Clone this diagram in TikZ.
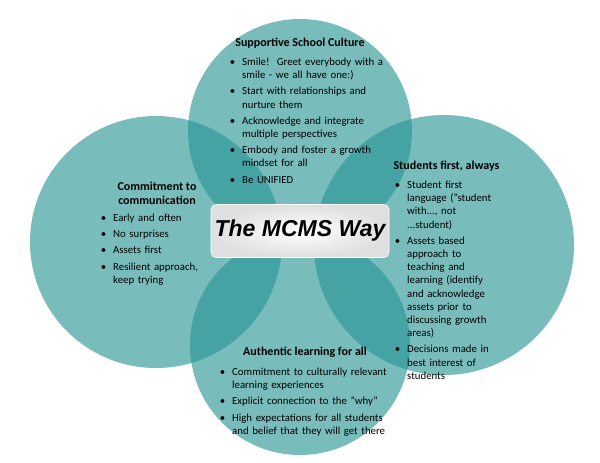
\documentclass[tikz,border=0pt]{standalone}
\usepackage{fontspec}
\setmainfont{Carlito}
\newfontfamily\titlefont{Liberation Sans}
\usetikzlibrary{shadings}
\definecolor{tealc}{RGB}{40,148,148}
\tikzset{
  circ/.style={fill=tealc,fill opacity=0.62,draw=none},
  head/.style={font=\bfseries\fontsize{12}{14}\selectfont,align=center},
  body/.style={font=\fontsize{10.8}{13.2}\selectfont,text width=#1,align=left,inner sep=0pt},
}
\newcommand{\bl}{\item}
\newenvironment{blist}{\begin{list}{\textbullet}{\setlength{\leftmargin}{13pt}\setlength{\labelsep}{7pt}\setlength{\itemsep}{3pt}\setlength{\parsep}{0pt}\setlength{\topsep}{0pt}}}{\end{list}}
\begin{document}
\begin{tikzpicture}[x=1pt,y=-1pt]
\useasboundingbox (0,0) rectangle (600,463);
\fill[white] (0,0) rectangle (600,463);
\fill[circ] (300,131) circle (112);
\fill[circ] (156,242) circle (126);
\fill[circ] (444,245) circle (130);
\fill[circ] (300,345) circle (110);
\node[head] (h1) at (300,43) {Supportive School Culture};
\node[body=162pt,anchor=north west] (b1) at (229,52) {\begin{blist}
\bl Smile!\ \ Greet everybody with a smile - we all have one:)
\bl Start with relationships and nurture them
\bl Acknowledge and integrate multiple perspectives
\bl Embody and foster a growth mindset for all
\bl Be UNIFIED
\end{blist}};
\node[head] (h2) at (157,193) {Commitment to\\communication};
\node[body=110pt,anchor=north west] (b2) at (100,208) {\begin{blist}
\bl Early and often
\bl No surprises
\bl Assets first
\bl Resilient approach, keep trying
\end{blist}};
\node[head,anchor=west] (h3) at (390,166) {Students first, always};
\node[body=108pt,anchor=north west] (b3) at (394,175) {\begin{blist}
\bl Student first language ("student with..., not ...student)
\bl Assets based approach to teaching and learning (identify and acknowledge assets prior to discussing growth areas)
\bl Decisions made in best interest of students
\end{blist}};
\node[head] (h4) at (305,352) {Authentic learning for all};
\node[body=182pt,anchor=north west] (b4) at (219,362) {\begin{blist}
\bl Commitment to culturally relevant learning experiences
\bl Explicit connection to the "why"
\bl High expectations for all students and belief that they will get there
\end{blist}};
\node[draw=white,line width=0.6pt,rounded corners=5pt,minimum width=178pt,minimum height=53pt,inner color=white,outer color=gray!25,
  font=\titlefont\bfseries\itshape\fontsize{23}{26}\selectfont] (t) at (300,231) {The MCMS Way};
\end{tikzpicture}
\end{document}
